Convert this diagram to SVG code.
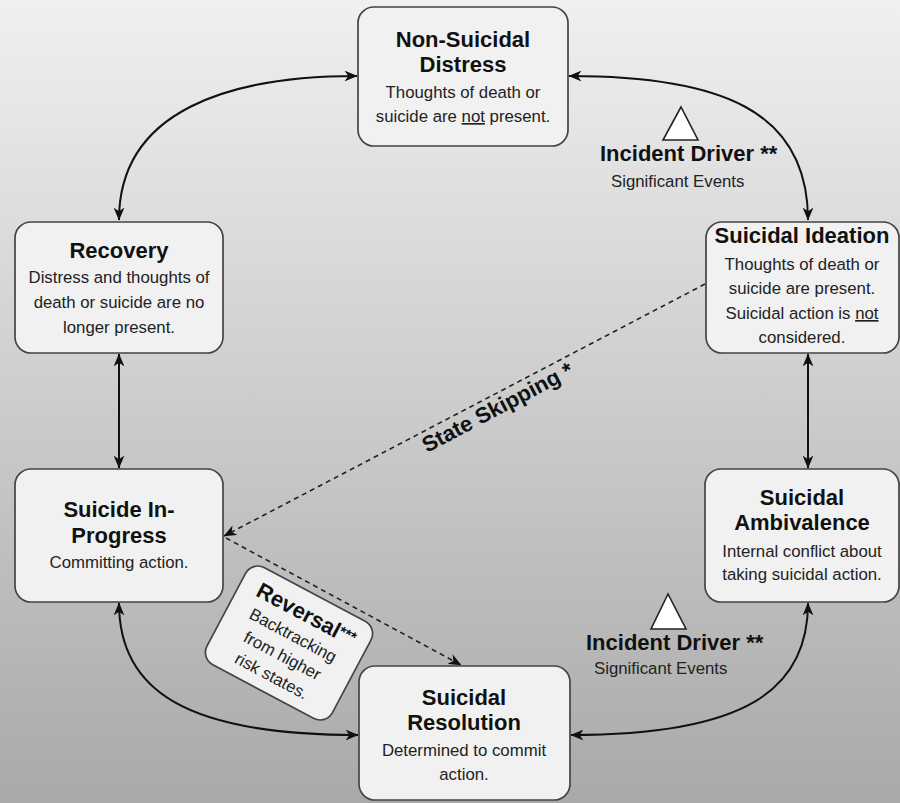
<svg xmlns="http://www.w3.org/2000/svg" width="900" height="803" viewBox="0 0 900 803">
<defs>
<linearGradient id="bg" x1="0" y1="0" x2="0" y2="1">
<stop offset="0" stop-color="#f0f0f0"/>
<stop offset="1" stop-color="#a9a9a9"/>
</linearGradient>
<marker id="arr" viewBox="0 0 12 10" refX="11.5" refY="5" markerWidth="13" markerHeight="11" orient="auto-start-reverse" markerUnits="userSpaceOnUse">
<path d="M0,0 L12,5 L0,10 L3.5,5 z" fill="#111"/>
</marker>
</defs>
<style>
.box{fill:#f1f1f1;stroke:#444;stroke-width:1.7}
.t{font-family:"Liberation Sans",Arial,sans-serif;font-weight:bold;font-size:22px;fill:#111;text-anchor:middle}
.b{font-family:"Liberation Sans",Arial,sans-serif;font-size:16.8px;fill:#222;text-anchor:middle}
.c{fill:none;stroke:#111;stroke-width:2}
.d{fill:none;stroke:#222;stroke-width:1.6;stroke-dasharray:5 4}
.lbl{font-family:"Liberation Sans",Arial,sans-serif;font-weight:bold;font-size:22px;fill:#111}
.sub{font-family:"Liberation Sans",Arial,sans-serif;font-size:16.8px;fill:#222}
.tri{fill:#fff;stroke:#222;stroke-width:1.6}
</style>
<rect x="0" y="0" width="900" height="803" fill="url(#bg)"/>

<g id="connectors">
<path class="c" d="M357 76 C230 76,119 110,119 220" marker-start="url(#arr)" marker-end="url(#arr)"/>
<path class="c" d="M569 76 C720 76,808 110,808 220" marker-start="url(#arr)" marker-end="url(#arr)"/>
<path class="c" d="M119 354 L119 468" marker-start="url(#arr)" marker-end="url(#arr)"/>
<path class="c" d="M808 354 L808 468" marker-start="url(#arr)" marker-end="url(#arr)"/>
<path class="c" d="M119 603 C119 690,185 735,358 735" marker-start="url(#arr)" marker-end="url(#arr)"/>
<path class="c" d="M808 603 C808 690,745 735,571 735" marker-start="url(#arr)" marker-end="url(#arr)"/>
<path class="d" d="M705 284 L224 536" marker-end="url(#arr)"/>
<path class="d" d="M226 538 L461 665" marker-end="url(#arr)"/>
<text class="lbl" font-size="19.5" text-anchor="middle" transform="translate(501,414) rotate(-27.8)">State Skipping *</text>
</g>

<g id="driver-top">
<polygon class="tri" points="681,107 663,140 698,140"/>
<text class="lbl" x="600" y="161">Incident Driver **</text>
<text class="sub" x="611" y="187">Significant Events</text>
</g>

<g id="driver-bottom">
<polygon class="tri" points="668,594 651,629 686,629"/>
<text class="lbl" x="586" y="650">Incident Driver **</text>
<text class="sub" x="594" y="674">Significant Events</text>
</g>

<g id="non-suicidal-distress">
<rect class="box" x="358" y="7" width="210" height="139" rx="16"/>
<text class="t" x="463" y="47">Non-Suicidal</text>
<text class="t" x="463" y="72">Distress</text>
<text class="b" x="463" y="98">Thoughts of death or</text>
<text class="b" x="463" y="122">suicide are <tspan text-decoration="underline">not</tspan> present.</text>
</g>

<g id="suicidal-ideation">
<rect class="box" x="706" y="222" width="193" height="131" rx="16"/>
<text class="t" x="802" y="243">Suicidal Ideation</text>
<text class="b" x="802" y="270">Thoughts of death or</text>
<text class="b" x="802" y="294">suicide are present.</text>
<text class="b" x="802" y="319">Suicidal action is <tspan text-decoration="underline">not</tspan></text>
<text class="b" x="802" y="343">considered.</text>
</g>

<g id="recovery">
<rect class="box" x="15" y="222" width="208" height="131" rx="16"/>
<text class="t" x="119" y="258">Recovery</text>
<text class="b" x="119" y="283">Distress and thoughts of</text>
<text class="b" x="119" y="308">death or suicide are no</text>
<text class="b" x="119" y="333">longer present.</text>
</g>

<g id="suicide-in-progress">
<rect class="box" x="15" y="469" width="208" height="133" rx="16"/>
<text class="t" x="119" y="517">Suicide In-</text>
<text class="t" x="119" y="543">Progress</text>
<text class="b" x="119" y="568">Committing action.</text>
</g>

<g id="suicidal-ambivalence">
<rect class="box" x="705" y="469" width="194" height="133" rx="16"/>
<text class="t" x="802" y="505">Suicidal</text>
<text class="t" x="802" y="530">Ambivalence</text>
<text class="b" x="802" y="557">Internal conflict about</text>
<text class="b" x="802" y="580">taking suicidal action.</text>
</g>

<g id="suicidal-resolution">
<rect class="box" x="359" y="666" width="211" height="134" rx="16"/>
<text class="t" x="464" y="705">Suicidal</text>
<text class="t" x="464" y="730">Resolution</text>
<text class="b" x="464" y="756">Determined to commit</text>
<text class="b" x="464" y="780">action.</text>
</g>

<g id="reversal" transform="translate(289,643) rotate(28)">
<rect class="box" x="-71" y="-55" width="142" height="110" rx="14"/>
<text class="t" x="2" y="-26" font-size="23">Reversal<tspan font-size="15" dy="-4">***</tspan></text>
<text class="b" x="0" y="-3">Backtracking</text>
<text class="b" x="0" y="20">from higher</text>
<text class="b" x="0" y="43">risk states.</text>
</g>
</svg>
